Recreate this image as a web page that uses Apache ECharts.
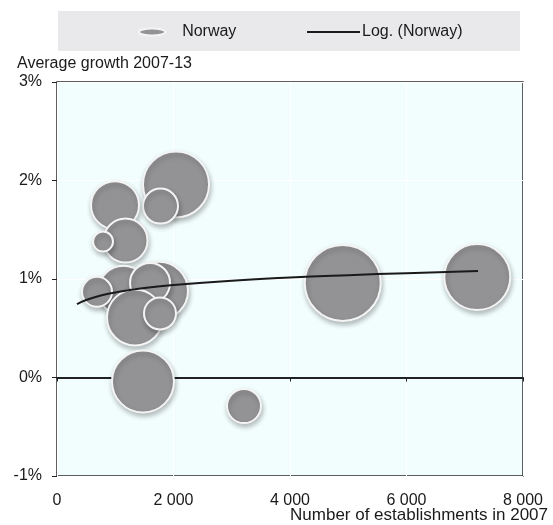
<!DOCTYPE html>
<html>
<head>
<meta charset="utf-8">
<script src="https://cdn.jsdelivr.net/npm/echarts@6/dist/echarts.min.js"></script>
<style>html,body{margin:0;padding:0;background:#fff}#c{width:553px;height:525px}</style>
</head>
<body>
<div id="c"></div>
<script>
// Bubble data: establishments in 2007, average growth 2007-13 (%), bubble weight
var establishments = [2043, 1777, 996, 1176, 790, 1751, 1140, 1597, 687, 1339, 1768, 4905, 7215, 1476, 3210];
var growth         = [1.96, 1.74, 1.75, 1.39, 1.38, 0.88, 0.88, 0.96, 0.87, 0.61, 0.65, 0.96, 1.02, -0.04, -0.29];
var weight         = [66, 35, 48, 44, 20, 58, 50, 40, 30, 56, 32, 76, 66, 62, 34];
// Logarithmic trend line
var trendX = [343, 500, 750, 1000, 1500, 2000, 3000, 4000, 5000, 6000, 7228];
var trendY = [0.746, 0.787, 0.832, 0.863, 0.908, 0.939, 0.983, 1.015, 1.039, 1.059, 1.080];
// Axis ticks
var xTicks = [0, 2000, 4000, 6000, 8000];
var yTicks = [-1, 0, 1, 2, 3];

var bubbles = establishments.map(function (x, i) { return [x, growth[i], weight[i]]; });
var trend = trendX.map(function (x, i) { return [x, trendY[i]]; });

var FONT = 'Liberation Sans, Arial, sans-serif';
var FS = 16;
var chart = echarts.init(document.getElementById('c'), null, {renderer: 'canvas'});
chart.setOption({
  animation: false,
  graphic: [
    {type: 'rect', shape: {x: 58, y: 11, width: 462, height: 40}, style: {fill: '#e9e9eb'}, z: -1},
    {type: 'text', left: 17, top: 56, style: {text: 'Average growth 2007-13', font: FS + 'px ' + FONT, fill: '#1a1a1a'}},
    {type: 'text', right: 5, top: 507, style: {text: 'Number of establishments in 2007', font: '17px ' + FONT, fill: '#1a1a1a'}}
  ],
  legend: [
    {data: [{name: 'Norway', icon: 'path://M0,4 A15,4 0 1,0 30,4 A15,4 0 1,0 0,4 Z'}], left: 138, top: 24, padding: 0,
     itemWidth: 30, itemHeight: 7, itemGap: 0, textStyle: {fontSize: FS, fontFamily: FONT, color: '#1a1a1a', padding: [0, 0, 0, 10]}},
    {data: [{name: 'Log. (Norway)', icon: 'rect'}], left: 307, top: 24, padding: 0,
     itemWidth: 53, itemHeight: 2, itemGap: 0, textStyle: {fontSize: FS, fontFamily: FONT, color: '#1a1a1a', padding: [0, 0, 0, -3]}}
  ],
  grid: {left: 57, top: 82, right: 30, bottom: 49, show: true, containLabel: false, outerBoundsMode: 'none',
    backgroundColor: '#f2fdfd', borderColor: '#2a2a2a', borderWidth: 1.5},
  xAxis: [{
    type: 'value', min: xTicks[0], max: xTicks[xTicks.length - 1], interval: 2000,
    axisLine: {show: false, onZero: false}, axisTick: {show: false},
    axisLabel: {fontSize: FS, fontFamily: FONT, color: '#1a1a1a', margin: 17,
      formatter: function (v) { return v === 0 ? '0' : (v / 1000) + ' 000'; }},
    splitLine: {show: true, lineStyle: {color: '#ffffff', width: 1}}
  }, {
    type: 'value', min: xTicks[0], max: xTicks[xTicks.length - 1], interval: 2000, position: 'bottom',
    axisLine: {show: true, onZero: true, lineStyle: {color: '#222', width: 2}},
    axisTick: {show: true, inside: false, length: 4, lineStyle: {color: '#222'}},
    axisLabel: {show: false}, splitLine: {show: false}
  }],
  yAxis: {
    type: 'value', min: yTicks[0], max: yTicks[yTicks.length - 1], interval: 1,
    axisLine: {show: false}, axisTick: {show: true, length: 5, lineStyle: {color: '#222'}},
    axisLabel: {fontSize: FS, fontFamily: FONT, color: '#1a1a1a', margin: 15, formatter: '{value}%'},
    splitLine: {show: true, lineStyle: {color: '#ffffff', width: 1}}
  },
  series: [{
    name: 'Norway', type: 'scatter', data: bubbles,
    symbolSize: function (d) { return d[2]; },
    itemStyle: {color: '#939396', borderColor: '#f4f4f4', borderWidth: 2, opacity: 1,
      shadowBlur: 5, shadowColor: 'rgba(0,0,0,0.25)', shadowOffsetX: 1, shadowOffsetY: 3},
    emphasis: {disabled: true}
  }, {
    name: 'Log. (Norway)', type: 'line', data: trend, smooth: true, symbol: 'none',
    lineStyle: {color: '#1a1a1a', width: 2}, itemStyle: {color: '#1a1a1a'}, z: 5
  }]
});
</script>
</body>
</html>
